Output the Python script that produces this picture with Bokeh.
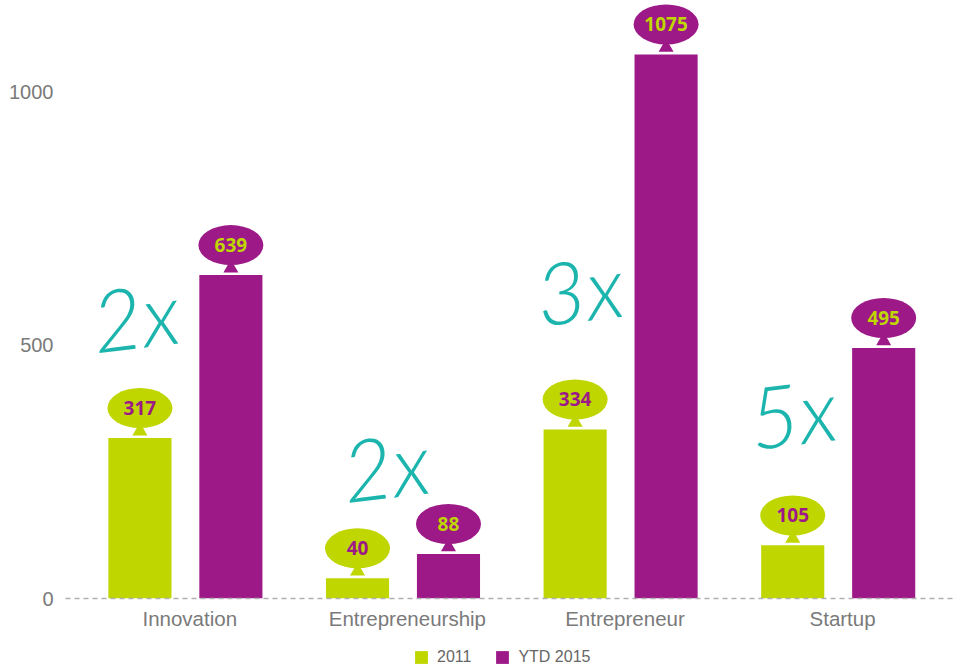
from bokeh.plotting import figure
from bokeh.layouts import column
from bokeh.models import Range1d, FixedTicker, Legend, LegendItem
from bokeh.core.properties import value
from bokeh.embed import file_html
from bokeh.resources import INLINE

# ---- data ----
categories = ["Innovation", "Entrepreneurship", "Entrepreneur", "Startup"]
series_names = ["2011", "YTD 2015"]
values_2011 = [317, 40, 334, 105]
values_2015 = [639, 88, 1075, 495]
y_ticks = [0, 500, 1000]
growth_labels = ["2x", "2x", "3x", "5x"]
growth_x = [-0.23, 0.92, 1.81, 2.79]
growth_y = [560, 264, 613, 369]

# ---- style ----
GREEN = "#bfd600"
PURPLE = "#9c1987"
TEAL = "#1cb5ae"
GREY = "#7a7a7a"

FIG_W = 955
LEFT = 65
FRAME_H = 599
AXIS_H = 33
LEGEND_H = 35
ppu = 0.507                    # pixels per data unit (vertical)
Y_MAX = FRAME_H / ppu
BUBBLE_OFF = 30 / ppu          # bubble centre above bar top
STEM_OFF = 7 / ppu
DODGE = 0.209
BAR_W = 0.29
LABEL_SHIFT = 0.02

idx = list(range(len(categories)))
x_a = [i - DODGE for i in idx]
x_b = [i + DODGE for i in idx]
tick_pos = [i + LABEL_SHIFT for i in idx]

p = figure(width=FIG_W, height=FRAME_H + AXIS_H,
           x_range=Range1d(-0.551, 3.539), y_range=Range1d(0, Y_MAX),
           output_backend="svg", toolbar_location=None,
           min_border_left=LEFT, min_border_right=0,
           min_border_top=0, min_border_bottom=AXIS_H)
p.outline_line_color = None
p.grid.visible = False

r1 = p.vbar(x=x_a, top=values_2011, width=BAR_W, bottom=0,
            fill_color=GREEN, line_color=None)
r2 = p.vbar(x=x_b, top=values_2015, width=BAR_W, bottom=0,
            fill_color=PURPLE, line_color=None)

# bubbles with stems
for xs, vals, col, tcol in ((x_a, values_2011, GREEN, PURPLE),
                            (x_b, values_2015, PURPLE, GREEN)):
    p.scatter(x=xs, y=[v + STEM_OFF for v in vals], marker="triangle",
              size=15, fill_color=col, line_color=None)
    p.ellipse(x=xs, y=[v + BUBBLE_OFF for v in vals], width=65, height=40,
              width_units="screen", height_units="screen",
              fill_color=col, line_color=None)
    p.text(x=xs, y=[v + BUBBLE_OFF for v in vals], text=[str(v) for v in vals],
           text_font=value("Open Sans"), text_font_style="bold",
           text_font_size="19px", text_align="center",
           text_baseline="middle", text_color=tcol)

# hand-written growth annotations
p.text(x=growth_x, y=growth_y, text=growth_labels,
       text_font=value("Lato Light, Lato"), text_font_style="italic",
       text_font_size="86px", text_align="center", text_baseline="middle",
       text_color=TEAL, angle=0.12)

# axes
xa = p.xaxis[0]
xa.ticker = FixedTicker(ticks=tick_pos)
xa.major_label_overrides = {t: c for t, c in zip(tick_pos, categories)}
xa.axis_line_color = "#b0b0b0"
xa.axis_line_width = 1.5
xa.axis_line_dash = "5 4"
xa.major_tick_line_color = None
xa.minor_tick_line_color = None
xa.major_tick_out = 0
xa.major_tick_in = 0
xa.major_label_text_font = "Liberation Sans"
xa.major_label_text_font_size = "20.5px"
xa.major_label_text_color = GREY
xa.major_label_standoff = 8

ya = p.yaxis[0]
ya.ticker = FixedTicker(ticks=y_ticks)
ya.axis_line_color = None
ya.major_tick_line_color = None
ya.minor_tick_line_color = None
ya.major_tick_out = 0
ya.major_tick_in = 0
ya.major_label_text_font = "Liberation Sans"
ya.major_label_text_font_size = "20px"
ya.major_label_text_color = GREY
ya.major_label_standoff = 12

# ---- legend strip (separate small figure under the chart) ----
q = figure(width=FIG_W, height=LEGEND_H, x_range=Range1d(0, 1), y_range=Range1d(0, 1),
           output_backend="svg", toolbar_location=None,
           x_axis_location=None, y_axis_location=None,
           min_border_left=0, min_border_right=0,
           min_border_top=0, min_border_bottom=0)
q.outline_line_color = None
q.grid.visible = False
# zero-height proxies so the legend can draw its colour swatches
l1 = q.vbar(x=[0.5], top=[0], bottom=[0], width=0, fill_color=GREEN, line_color=None)
l2 = q.vbar(x=[0.5], top=[0], bottom=[0], width=0, fill_color=PURPLE, line_color=None)
legend = Legend(items=[LegendItem(label=series_names[0], renderers=[l1]),
                       LegendItem(label=series_names[1], renderers=[l2])],
                orientation="horizontal", location=(348, 1),
                glyph_width=16, glyph_height=16, label_height=16,
                label_text_font="Liberation Sans", label_text_font_size="16px",
                label_text_color="#666666", spacing=23, label_standoff=8,
                border_line_color=None, background_fill_alpha=0,
                padding=2, margin=0)
q.add_layout(legend, "center")

open("out.html", "w").write(file_html(column(p, q, spacing=0), INLINE))
